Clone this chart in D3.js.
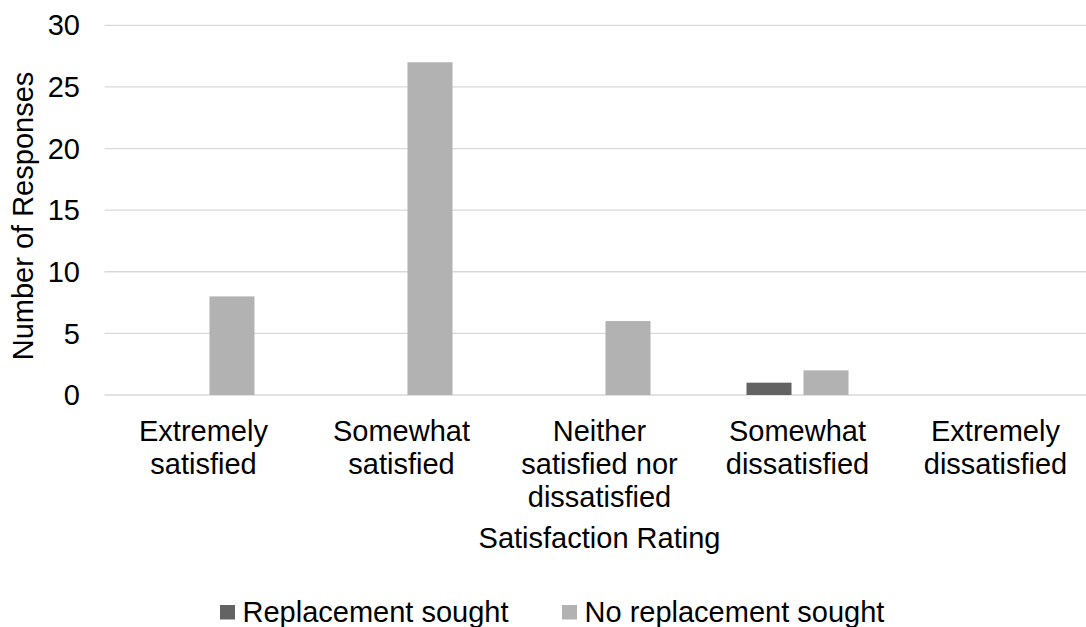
<!DOCTYPE html>
<html><head><meta charset="utf-8">
<script src="https://cdn.jsdelivr.net/npm/d3@7"></script>
<style>body{margin:0;background:#fff;} text{font-family:"Liberation Sans",Arial,sans-serif;}</style>
</head><body>
<svg id="c" width="1086" height="627"></svg>
<script>
const categories = [["Extremely","satisfied"],["Somewhat","satisfied"],["Neither","satisfied nor","dissatisfied"],["Somewhat","dissatisfied"],["Extremely","dissatisfied"]];
const seriesNames = ["Replacement sought","No replacement sought"];
const replacementSought = [0,0,0,1,0];
const noReplacementSought = [8,27,6,2,0];
const yTicks = [0,5,10,15,20,25,30];
const colors = ["#636363","#b2b2b2"];

(function(){
const svg = d3.select("#c");
const FS = 29;
const pLeft = 104.5, pRight = 1094.5, pTop = 25.3, pBottom = 395;
const catIdx = d3.range(categories.length);
const x0 = d3.scaleBand().domain(catIdx).range([pLeft,pRight]).padding(0);
const x1 = d3.scaleBand().domain([0,1]).range([48,150]).paddingInner(0.21).paddingOuter(0);
const y = d3.scaleLinear().domain([0,30]).range([pBottom,pTop]);

svg.append("g").selectAll("line").data(yTicks).join("line")
  .attr("x1",pLeft).attr("x2",pRight)
  .attr("y1",d=>y(d)).attr("y2",d=>y(d))
  .attr("stroke","#d9d9d9").attr("stroke-width",1.3);

svg.append("g").selectAll("text").data(yTicks).join("text")
  .attr("x",80).attr("y",d=>y(d)).attr("dy","0.35em")
  .attr("text-anchor","end").attr("font-size",FS).attr("fill","#000")
  .text(d=>d);

const series = [replacementSought, noReplacementSought];
series.forEach((vals,si)=>{
  svg.append("g").selectAll("rect").data(vals).join("rect")
    .attr("x",(d,i)=>x0(i)+x1(si)).attr("width",x1.bandwidth())
    .attr("y",d=>y(d)).attr("height",d=>y(0)-y(d))
    .attr("fill",colors[si]);
});

const cl = svg.append("g").selectAll("text").data(categories).join("text")
  .attr("text-anchor","middle").attr("font-size",FS).attr("fill","#000");
cl.each(function(d,i){
  const t=d3.select(this);
  d.forEach((line,li)=>{
    t.append("tspan").attr("x",x0(i)+x0.bandwidth()/2).attr("y",441+li*32.8).text(line);
  });
});

svg.append("text").attr("x",(pLeft+pRight)/2).attr("y",548)
  .attr("text-anchor","middle").attr("font-size",FS).text("Satisfaction Rating");
svg.append("text").attr("transform",`translate(32.5,216) rotate(-90)`)
  .attr("text-anchor","middle").attr("font-size",FS).text("Number of Responses");

const legX = [220,562];
const lg = svg.append("g").selectAll("g").data(seriesNames).join("g")
  .attr("transform",(d,i)=>`translate(${legX[i]},621.5)`);
lg.append("rect").attr("x",0).attr("y",-16.5).attr("width",15).attr("height",14.5).attr("fill",(d,i)=>colors[i]);
lg.append("text").attr("x",22.5).attr("y",0).attr("font-size",FS).text(d=>d);
})();
</script>
</body></html>
